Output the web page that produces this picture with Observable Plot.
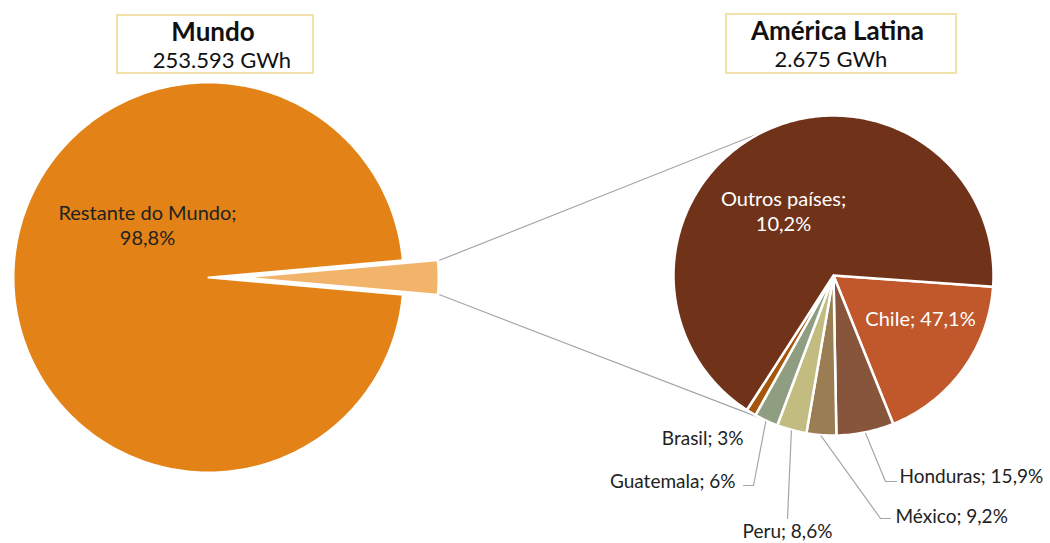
<!DOCTYPE html>
<html><head><meta charset="utf-8">
<script src="https://cdn.jsdelivr.net/npm/d3@7"></script>
<script src="https://cdn.jsdelivr.net/npm/@observablehq/plot@0.6"></script>
<style>
body{margin:0;background:#fff;}
#wrap{position:relative;width:1050px;height:543px;font-family:Lato,"Open Sans",sans-serif;}
#wrap svg{position:absolute;left:0;top:0;}
.tbox{position:absolute;box-sizing:border-box;border:2px solid #F3E1AB;background:#fff;color:#111;}
.tbox div{position:absolute;left:0;right:0;text-align:center;white-space:nowrap;line-height:1;}
.tbox .h{font-weight:bold;font-size:26px;}
.tbox .v{font-size:22px;}
</style></head><body><div id="wrap"></div>
<script>
// ---- data ----
const mundoNames  = ["Restante do Mundo", "América Latina"];
const mundoShare  = [97.2, 2.8];            // visual share of the slices as drawn
const mundoLabels = ["Restante do Mundo;\n98,8%", ""];
const mundoColors = ["#E38317", "#F2B36B"];
const mundoTotal  = "253.593 GWh";

const latNames  = ["Chile", "Honduras", "México", "Peru", "Guatemala", "Brasil", "Outros países"];
const latShare  = [17.8, 5.8, 3.0, 3.0, 2.4, 1.0, 67.0]; // visual share of the slices as drawn
const latPct    = ["47,1%", "15,9%", "9,2%", "8,6%", "6%", "3%", "10,2%"];
const latColors = ["#C0582C", "#87553C", "#9A7D52", "#C2BC80", "#8F9E80", "#A5560C", "#70331A"];
const latTotal  = "2.675 GWh";

// ---- layout ----
const W = 1050, H = 543, deg = Math.PI / 180;
const P1 = {cx: 208, cy: 277, r: 195, explode: 35};
const P2 = {cx: 833, cy: 275, r: 160, start: 94};
const conn = [-25.8, 206.6]; // angles on the second pie where connectors end

function pieSlices(names, shares, colors, cx, cy, r, start, explode) {
  const arcs = d3.pie().sort(null).value(d => d)
    .startAngle(start * deg).endAngle((start + 360) * deg)(shares);
  const pts = [], info = [];
  arcs.forEach((a, i) => {
    const mid = (a.startAngle + a.endAngle) / 2;
    const off = explode[i] || 0;
    const ox = cx + off * Math.sin(mid), oy = cy - off * Math.cos(mid);
    const n = Math.max(2, Math.ceil((a.endAngle - a.startAngle) / deg));
    const base = {name: names[i], color: colors[i]};
    pts.push({...base, x: ox, y: oy});
    for (let k = 0; k <= n; k++) {
      const t = a.startAngle + (a.endAngle - a.startAngle) * k / n;
      pts.push({...base, x: ox + r * Math.sin(t), y: oy - r * Math.cos(t)});
    }
    pts.push({...base, x: ox, y: oy});
    info.push({name: names[i], a0: a.startAngle, a1: a.endAngle, mid, ox, oy});
  });
  return {pts, info};
}

const startMain = 90 + mundoShare[1] * 3.6 / 2;
const main = pieSlices(mundoNames, mundoShare, mundoColors, P1.cx, P1.cy, P1.r, startMain, [0, P1.explode]);
const lat  = pieSlices(latNames, latShare, latColors, P2.cx, P2.cy, P2.r, P2.start, []);

// connector lines from exploded slice corners to second pie
const small = main.info[1];
const connectors = [];
[small.a0, small.a1].forEach((a, i) => {
  connectors.push({k: i, x: small.ox + (P1.r + 2) * Math.sin(a), y: small.oy - (P1.r + 2) * Math.cos(a)});
  const b = conn[i] * deg;
  connectors.push({k: i, x: P2.cx + P2.r * Math.sin(b), y: P2.cy - P2.r * Math.cos(b)});
});

// label placement (layout only)
const labelLayout = {
  "Chile":         {x: 920, y: 317, anchor: "middle", fill: "#fff"},
  "Outros países": {x: 783, y: 210, anchor: "middle", fill: "#fff", wrap: true},
  "Brasil":        {x: 743, y: 437, anchor: "end"},
  "Guatemala":     {x: 735, y: 480, anchor: "end",    leader: [[753, 485], [743, 485]]},
  "Peru":          {x: 787, y: 530, anchor: "middle", leader: [[787, 518]]},
  "México":        {x: 895, y: 515, anchor: "start",  leader: [[880, 518], [890, 518]]},
  "Honduras":      {x: 899, y: 475, anchor: "start",  leader: [[885, 481], [896, 481]]}
};

const latLabels = latNames.map((n, i) => {
  const L = labelLayout[n];
  return {name: n, text: n + ";" + (L.wrap ? "\n" : " ") + latPct[i], x: L.x, y: L.y,
          anchor: L.anchor, fill: L.fill || "#222"};
});
const leaders = [];
lat.info.forEach(s => {
  const L = labelLayout[s.name];
  if (!L.leader) return;
  leaders.push({name: s.name, x: P2.cx + (P2.r + 1) * Math.sin(s.mid), y: P2.cy - (P2.r + 1) * Math.cos(s.mid)});
  L.leader.forEach(([x, y]) => leaders.push({name: s.name, x, y}));
});
const mainLabels = [{text: mundoLabels[0], x: 147, y: 224}];

const font = "Lato, 'Open Sans', sans-serif";
const textOpts = (anchor, size) => ({x: "x", y: "y", text: "text", fill: "fill", textAnchor: anchor, fontSize: size, fontFamily: font, lineHeight: 1.25});
const inside = d => d.fill === "#fff";
const chart = Plot.plot({
  width: W, height: H, margin: 0,
  x: {domain: [0, W], axis: null},
  y: {domain: [H, 0], axis: null},
  color: {type: "identity"},
  style: {background: "transparent"},
  marks: [
    Plot.line(main.pts, {x: "x", y: "y", z: "name", fill: "color", stroke: "white", strokeWidth: 2, strokeLinejoin: "round", curve: "linear"}),
    Plot.line(connectors, {x: "x", y: "y", z: "k", stroke: "#A6A6A6", strokeWidth: 1.2}),
    Plot.line(lat.pts, {x: "x", y: "y", z: "name", fill: "color", stroke: "white", strokeWidth: 2.5, strokeLinejoin: "round", curve: "linear"}),
    Plot.line(leaders, {x: "x", y: "y", z: "name", stroke: "#A6A6A6", strokeWidth: 1.2}),
    Plot.text(mainLabels, {x: "x", y: "y", text: "text", fill: "#222", fontSize: 20, fontFamily: font, lineHeight: 1.25}),
    Plot.text(latLabels.filter(inside), textOpts("middle", 20)),
    Plot.text(latLabels.filter(d => !inside(d) && d.anchor === "middle"), textOpts("middle", 19)),
    Plot.text(latLabels.filter(d => !inside(d) && d.anchor === "start"), textOpts("start", 19)),
    Plot.text(latLabels.filter(d => !inside(d) && d.anchor === "end"), textOpts("end", 19))
  ]
});

const wrap = document.getElementById("wrap");
wrap.appendChild(chart);

function titleBox(left, top, w, h, head, val, hx, vx) {
  const b = document.createElement("div");
  b.className = "tbox";
  Object.assign(b.style, {left: left + "px", top: top + "px", width: w + "px", height: h + "px"});
  const t = document.createElement("div"); t.className = "h"; t.textContent = head;
  t.style.top = "2px"; t.style.left = hx + "px";
  const v = document.createElement("div"); v.className = "v"; v.textContent = val;
  v.style.top = "33px"; v.style.left = vx + "px";
  b.appendChild(t); b.appendChild(v);
  wrap.appendChild(b);
}
titleBox(116, 14, 198, 60, "Mundo", mundoTotal, -4, 14);
titleBox(725, 13, 232, 61, "América Latina", latTotal, -7, -20);
</script>
</body></html>
